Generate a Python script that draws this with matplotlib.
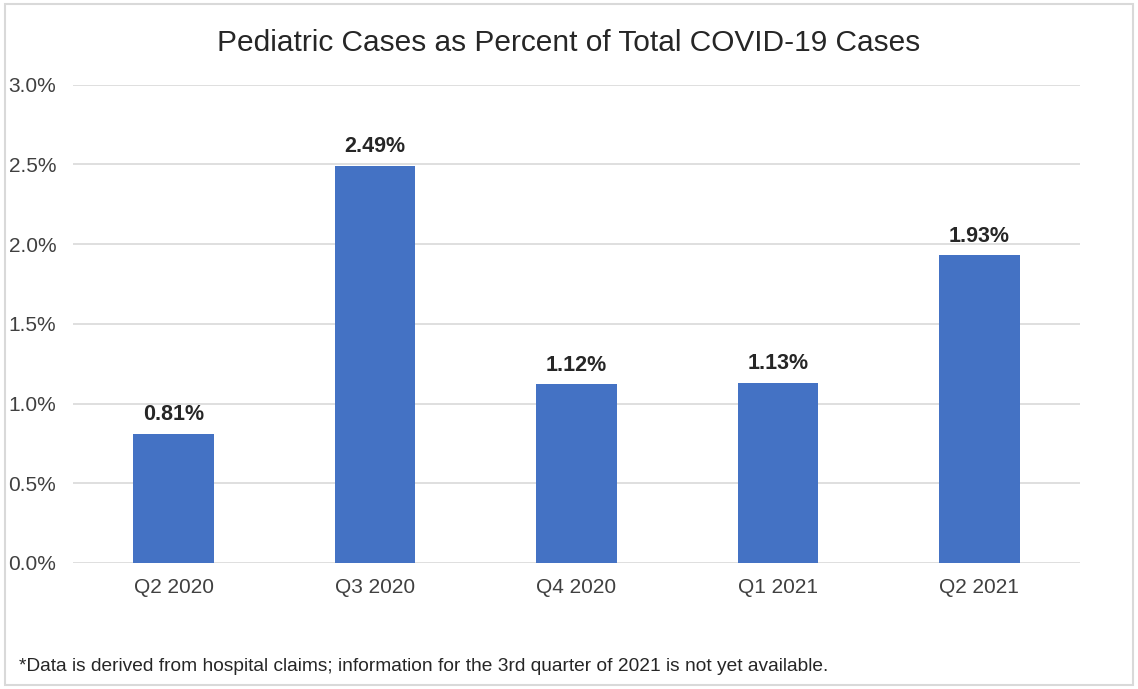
import matplotlib.pyplot as plt
from matplotlib.patches import Rectangle

plt.rcParams['font.family'] = ['Liberation Sans', 'DejaVu Sans']

quarters = ['Q2 2020', 'Q3 2020', 'Q4 2020', 'Q1 2021', 'Q2 2021']
pct = [0.81, 2.49, 1.12, 1.13, 1.93]
yticks = [0.0, 0.5, 1.0, 1.5, 2.0, 2.5, 3.0]

fig = plt.figure(figsize=(11.38, 6.89), dpi=100)
ax = fig.add_axes([0.064, 0.183, 0.885, 0.694])

bars = ax.bar(range(len(quarters)), pct, width=0.4, color='#4472C4', zorder=3)
for b, v in zip(bars, pct):
    ax.text(b.get_x() + b.get_width() / 2, v + 0.055, f'{v:.2f}%',
            ha='center', va='bottom', fontsize=15.5, fontweight='bold', color='#262626')

ax.set_xlim(-0.5, len(quarters) - 0.5)
ax.set_ylim(0, 3.0)
ax.set_yticks(yticks)
ax.set_yticklabels([f'{t:.1f}%' for t in yticks])
ax.set_xticks(range(len(quarters)))
ax.set_xticklabels(quarters)
ax.tick_params(axis='both', length=0, labelsize=15, colors='#404040')
ax.tick_params(axis='y', pad=12)
ax.tick_params(axis='x', pad=11)
ax.grid(axis='y', color='#D9D9D9', linewidth=1.2, zorder=0)
for s in ax.spines.values():
    s.set_visible(False)

fig.text(0.5, 0.937, 'Pediatric Cases as Percent of Total COVID-19 Cases',
         ha='center', va='center', fontsize=21.5, color='#262626')
fig.text(0.017, 0.032, '*Data is derived from hospital claims; information for the 3rd quarter of 2021 is not yet available.',
         ha='left', va='center', fontsize=13.8, color='#262626')

fig.patches.append(Rectangle((0.004, 0.006), 0.992, 0.988, transform=fig.transFigure,
                             fill=False, edgecolor='#D9D9D9', linewidth=1.5))

fig.savefig('out.png', dpi=100)
